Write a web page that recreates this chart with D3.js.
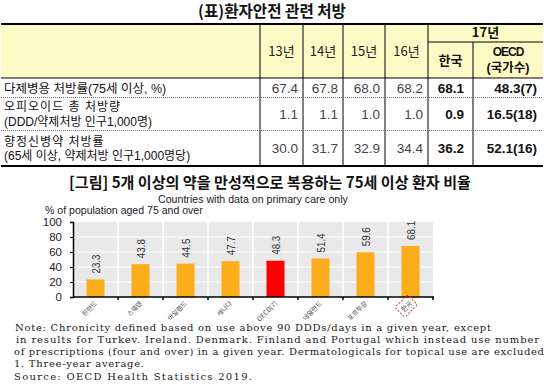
<!DOCTYPE html>
<html><head><meta charset="utf-8">
<script src="https://cdn.jsdelivr.net/npm/d3@7/dist/d3.min.js"></script>
<style>body{margin:0;background:#fff}svg{display:block}</style>
</head><body>
<svg id="c" width="550" height="386"></svg>
<script>
// ---------- data ----------
const tableTitle = "(표)환자안전 관련 처방";
const tableYears = ["13년","14년","15년","16년"];
const year17 = "17년";
const sub17 = ["한국", ["OECD","(국가수)"]];
const rowLabels = [
  ["다제병용 처방률(75세 이상, %)"],
  ["오피오이드 총 처방량","(DDD/약제처방 인구1,000명)"],
  ["향정신병약 처방률","(65세 이상, 약제처방 인구1,000명당)"]
];
const rowYearValues = [
  ["67.4","67.8","68.0","68.2"],
  ["1.1","1.1","1.0","1.0"],
  ["30.0","31.7","32.9","34.4"]
];
const rowKorea17 = ["68.1","0.9","36.2"];
const rowOecd17 = ["48.3(7)","16.5(18)","52.1(16)"];

const chartTitle = "[그림] 5개 이상의 약을 만성적으로 복용하는 75세 이상 환자 비율";
const subTitle = "Countries with data on primary care only";
const yLabel = "% of population aged 75 and over";
const countries = ["핀란드","스웨덴","아일랜드","캐나다","OECD(7)","네덜란드","포르투갈","한국"];
const shares = [23.3,43.8,44.5,47.7,48.3,51.4,59.6,68.1];
const yTicks = [0,20,40,60,80,100];
const notes = [
  "Note: Chronicity defined based on use above 90 DDDs/days in a given year, except",
  "in results for Turkev. Ireland. Denmark. Finland and Portugal which instead use number",
  "of prescriptions (four and over) in a given year. Dermatologicals for topical use are excluded",
  "1. Three-year average.",
  "Source: OECD Health Statistics 2019."
];

// ---------- drawing ----------
const svg = d3.select("#c");
svg.append("rect").attr("width",550).attr("height",386).attr("fill","#fff");
const KR = "'Noto Sans CJK KR', sans-serif";
const KR2 = "'Liberation Sans', 'Noto Sans CJK KR', sans-serif";
const SANS = "'Liberation Sans', Arial, sans-serif";

function fit(sel, w){
  const n = sel.node(); const fs = parseFloat(sel.attr("font-size"));
  const L = n.getComputedTextLength();
  if (L>0) sel.attr("font-size", (fs*w/L).toFixed(2));
  return sel;
}

// table title
fit(svg.append("text").attr("x",272).attr("y",17).attr("text-anchor","middle")
  .attr("font-family",KR).attr("font-weight","bold").attr("font-size",13)
  .attr("fill","#111").text(tableTitle), 148);

// table geometry
const colX = [1,260,303,343,385,428,473,543];
const rowY = [24,78,97,130,166];
const topY = 24, sub17Y = 42;
const t = svg.append("g");
t.append("rect").attr("x",colX[0]).attr("y",topY).attr("width",colX[7]-colX[0]).attr("height",rowY[1]-topY).attr("fill","#fffbc6");

colX.slice(1,6).forEach(x=>{
  t.append("line").attr("x1",x).attr("x2",x).attr("y1",topY).attr("y2",rowY[4]).attr("stroke","#000").attr("stroke-width",1);
});
t.append("line").attr("x1",colX[6]).attr("x2",colX[6]).attr("y1",sub17Y).attr("y2",rowY[4]).attr("stroke","#000");
t.append("line").attr("x1",colX[5]).attr("x2",colX[7]).attr("y1",sub17Y).attr("y2",sub17Y).attr("stroke","#000");
t.append("line").attr("x1",colX[0]).attr("x2",colX[7]).attr("y1",topY).attr("y2",topY).attr("stroke","#000").attr("stroke-width",2);
t.append("line").attr("x1",colX[0]).attr("x2",colX[7]).attr("y1",rowY[1]).attr("y2",rowY[1]).attr("stroke","#000").attr("stroke-width",1.2);
[rowY[2],rowY[3]].forEach(y=>{
  t.append("line").attr("x1",colX[0]).attr("x2",colX[7]).attr("y1",y+0.5).attr("y2",y+0.5).attr("stroke","#777").attr("stroke-dasharray","1,1");
});
t.append("line").attr("x1",colX[0]).attr("x2",colX[7]).attr("y1",rowY[4]).attr("y2",rowY[4]).attr("stroke","#000").attr("stroke-width",2);

// header text
tableYears.forEach((yr,i)=>{
  t.append("text").attr("x",(colX[i+1]+colX[i+2])/2).attr("y",56).attr("text-anchor","middle")
   .attr("font-family",KR).attr("font-size",13).attr("fill","#222").text(yr);
});
t.append("text").attr("x",(colX[5]+colX[7])/2).attr("y",37).attr("text-anchor","middle")
  .attr("font-family",KR).attr("font-weight","bold").attr("font-size",13).attr("fill","#111").text(year17);
t.append("text").attr("x",(colX[5]+colX[6])/2).attr("y",65).attr("text-anchor","middle")
  .attr("font-family",KR).attr("font-weight","bold").attr("font-size",13).attr("fill","#111").text(sub17[0]);
t.append("text").attr("x",(colX[6]+colX[7])/2).attr("y",56).attr("text-anchor","middle")
  .attr("font-family",SANS).attr("font-weight","bold").attr("font-size",12).attr("letter-spacing",-1).attr("fill","#111").text(sub17[1][0]);
t.append("text").attr("x",(colX[6]+colX[7])/2).attr("y",72).attr("text-anchor","middle")
  .attr("font-family",KR2).attr("font-weight","bold").attr("font-size",12.5).attr("fill","#111").text(sub17[1][1]);

// rows
rowLabels.forEach((lines,r)=>{
  const y0 = rowY[r+1], y1 = rowY[r+2], mid=(y0+y1)/2;
  if (lines.length===1){
    t.append("text").attr("x",4).attr("y",mid+5).attr("font-family",KR2).attr("font-size",12.5).attr("fill","#111").text(lines[0]);
  } else {
    lines.forEach((ln,k)=>{
      t.append("text").attr("x",4).attr("y",mid-2.5+k*14.5).attr("font-family",KR2).attr("font-size",12)
        .attr("letter-spacing", k===0?1:0).attr("fill","#111").text(ln);
    });
  }
  const vy = mid+5;
  rowYearValues[r].forEach((v,i)=>{
    t.append("text").attr("x",colX[i+2]-5).attr("y",vy).attr("text-anchor","end")
     .attr("font-family",SANS).attr("font-size",13.5).attr("fill","#444").text(v);
  });
  t.append("text").attr("x",colX[6]-9).attr("y",vy).attr("text-anchor","end")
   .attr("font-family",SANS).attr("font-weight","bold").attr("font-size",13.5).attr("fill","#111").text(rowKorea17[r]);
  t.append("text").attr("x",colX[7]-6).attr("y",vy).attr("text-anchor","end")
   .attr("font-family",SANS).attr("font-weight","bold").attr("font-size",13.5).attr("fill","#111").text(rowOecd17[r]);
});

// chart title
fit(svg.append("text").attr("x",270).attr("y",188).attr("text-anchor","middle")
  .attr("font-family",KR).attr("font-weight","bold").attr("font-size",13)
  .attr("fill","#111").text(chartTitle), 402);

fit(svg.append("text").attr("x",253).attr("y",202.5).attr("text-anchor","middle")
  .attr("font-family",SANS).attr("font-size",10).attr("fill","#222").text(subTitle), 190);
fit(svg.append("text").attr("x",45).attr("y",213.5)
  .attr("font-family",SANS).attr("font-size",10).attr("fill","#222").text(yLabel), 158);

// plot
const L=73, R=433, T=222, B=297;
const x = d3.scaleBand().domain(countries).range([L,R]).padding(0);
const y = d3.scaleLinear().domain([0,100]).range([B,T]);
const g = svg.append("g");
g.append("rect").attr("x",L).attr("y",T).attr("width",R-L).attr("height",B-T).attr("fill","#e9e9e9");
g.selectAll(".hg").data(yTicks.filter(v=>v>0&&v<100)).join("line")
  .attr("x1",L).attr("x2",R).attr("y1",d=>y(d)).attr("y2",d=>y(d)).attr("stroke","#fff").attr("stroke-width",1.2);
g.selectAll(".vg").data(countries.slice(1)).join("line")
  .attr("x1",d=>x(d)).attr("x2",d=>x(d)).attr("y1",T).attr("y2",B).attr("stroke","#fff").attr("stroke-width",1.5);

const bw = x.bandwidth()*0.4;
g.selectAll(".bar").data(countries).join("rect")
  .attr("x",d=>x(d)+x.bandwidth()/2-bw/2).attr("width",bw)
  .attr("y",(d,i)=>y(shares[i])).attr("height",(d,i)=>B-y(shares[i]))
  .attr("fill",d=>d.startsWith("OECD")?"#ff0000":"#fbad1c");

g.selectAll(".vl").data(countries).join("text")
  .attr("transform",(d,i)=>`translate(${x(d)+x.bandwidth()/2+4},${y(shares[i])-6}) rotate(-90) scale(0.85,1)`)
  .attr("font-family",SANS).attr("font-size",11.5).attr("fill","#333")
  .text((d,i)=>shares[i].toFixed(1));

// y axis
const ya = g.append("g").attr("transform",`translate(${L},0)`)
  .call(d3.axisLeft(y).tickValues(yTicks).tickSize(3).tickPadding(8).tickFormat(d3.format("d")));
ya.select(".domain").attr("stroke","#000").attr("stroke-width",1.5);
ya.selectAll("text").attr("font-family",SANS).attr("font-size",11.5).attr("fill","#222");
ya.selectAll("line").attr("stroke","#000");

// x axis baseline with ticks at band boundaries
g.append("line").attr("x1",L).attr("x2",R+1).attr("y1",B).attr("y2",B).attr("stroke","#000").attr("stroke-width",1.5);
g.selectAll(".xt").data(countries.slice(1).concat(["__end"])).join("line")
  .attr("x1",d=>d==="__end"?R:x(d)).attr("x2",d=>d==="__end"?R:x(d))
  .attr("y1",B).attr("y2",B+3).attr("stroke","#000").attr("stroke-width",1.5);

// x labels rotated
const xl = g.selectAll(".xl").data(countries).join("g")
  .attr("transform",d=>`translate(${x(d)+x.bandwidth()/2+2},${B+7}) rotate(-45)`);
xl.append("text").attr("text-anchor","end").attr("font-family",KR).attr("font-size",6.5).attr("fill","#444").text(d=>d);
xl.filter(d=>d==="한국").each(function(){
  const bb = d3.select(this).select("text").node().getBBox();
  d3.select(this).insert("rect","text").attr("x",bb.x-3).attr("y",bb.y-2).attr("width",bb.width+6).attr("height",bb.height+4)
    .attr("rx",2).attr("fill","none").attr("stroke","#e33").attr("stroke-width",1).attr("stroke-dasharray","2,1.5");
});

// notes
const noteY = [331,343,354.5,367,379.5];
const noteX = [15,16,14,14,14];
const noteW = [476,523,530,130,238];
notes.forEach((n,i)=>svg.append("text").attr("x",noteX[i]).attr("y",noteY[i])
  .attr("font-family","'DejaVu Serif', serif").attr("font-size",10).attr("fill","#1a1a1a")
  .attr("textLength",noteW[i]).attr("lengthAdjust","spacing").text(n));
</script>
</body></html>
